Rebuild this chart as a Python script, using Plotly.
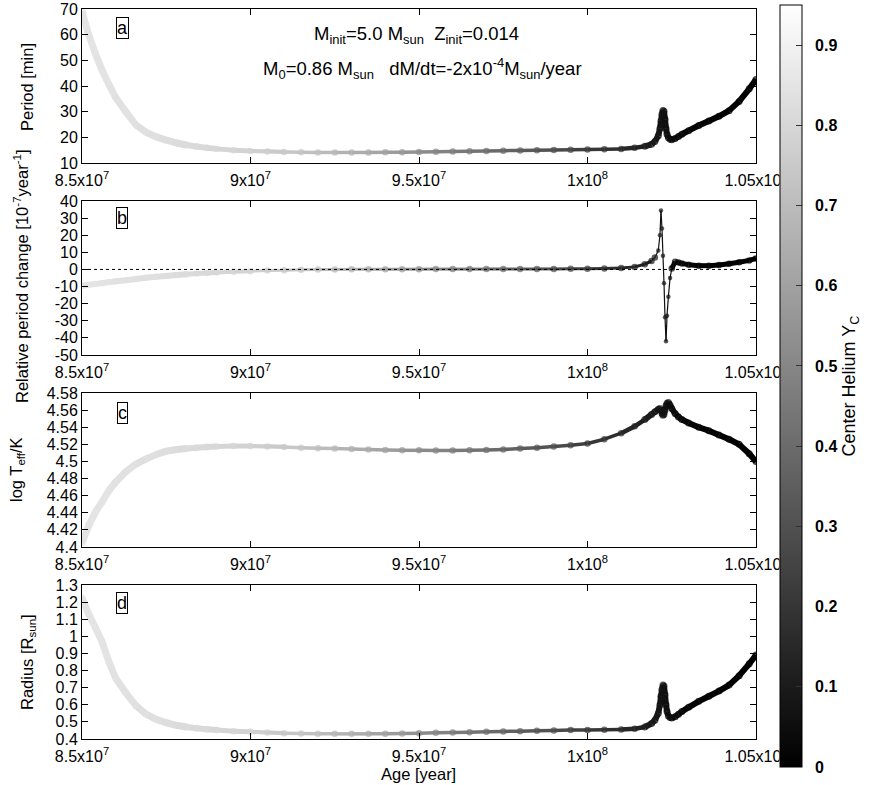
import plotly.graph_objects as go

# ---------------- data ----------------
age_myr = [85.0, 85.2, 85.4, 85.6, 85.8, 86.0, 86.3, 86.6, 86.9, 87.2, 87.5, 87.8, 88.1, 88.4, 88.7,
           89.0, 89.5, 90.0, 90.5, 91.0, 91.5, 92.0, 92.5, 93.0, 93.5, 94.0, 94.5, 95.0, 95.5, 96.0,
           96.5, 97.0, 97.5, 98.0, 98.5, 99.0, 99.5, 100.0, 100.5, 101.0, 101.4, 101.7, 101.9, 102.0,
           102.1, 102.15, 102.18, 102.21, 102.24, 102.27, 102.30, 102.33, 102.36, 102.40, 102.45,
           102.5, 102.6, 102.7, 102.8, 103.0, 103.3, 103.6, 103.9, 104.2, 104.5, 104.8, 105.0]

period_min = [69, 60, 52.5, 46, 40.5, 35.5, 30, 24.8, 22.0, 20.2, 18.9, 17.8, 17.0, 16.4, 15.9,
              15.5, 15.0, 14.7, 14.5, 14.3, 14.2, 14.1, 14.1, 14.1, 14.1, 14.15, 14.2, 14.3, 14.4, 14.5,
              14.6, 14.7, 14.8, 14.9, 15.0, 15.1, 15.2, 15.3, 15.4, 15.5, 15.9, 16.5, 17.3, 18.4,
              20.6, 23.4, 26.4, 29.0, 30.5, 30.2, 27.0, 23.4, 21.2, 19.8, 19.3,
              19.1, 19.5, 20.3, 21.2, 22.6, 24.6, 26.4, 28.2, 30.4, 34.0, 38.9, 42.5]

rel_change = [-9.5, -9.0, -8.5, -8.0, -7.4, -6.9, -6.3, -5.6, -4.9, -4.3, -3.8, -3.3, -2.8, -2.4, -2.1,
              -1.8, -1.4, -1.0, -0.6, -0.4, -0.25, -0.1, 0.0, 0.05, 0.1, 0.1, 0.15, 0.15, 0.2, 0.2,
              0.2, 0.2, 0.25, 0.25, 0.3, 0.3, 0.35, 0.4, 0.5, 0.8, 1.5, 3.0, 5.0, 7.0,
              11.0, 20.0, 34.5, 24.0, 8.0, -8.0, -28.0, -42.0, -27.0, -16.0, -5.0,
              0.5, 4.5, 4.0, 3.5, 2.8, 2.2, 2.2, 2.6, 3.3, 4.2, 5.3, 6.4]

log_teff = [4.405, 4.425, 4.441, 4.453, 4.466, 4.476, 4.488, 4.497, 4.503, 4.508, 4.512, 4.514, 4.515, 4.516, 4.517,
            4.5175, 4.518, 4.518, 4.5175, 4.517, 4.516, 4.5155, 4.515, 4.5145, 4.514, 4.5135, 4.513, 4.513, 4.5128, 4.5128,
            4.513, 4.5135, 4.514, 4.515, 4.516, 4.5175, 4.519, 4.521, 4.526, 4.533, 4.541, 4.549, 4.555, 4.558,
            4.561, 4.562, 4.560, 4.556, 4.554, 4.555, 4.560, 4.565, 4.568, 4.569, 4.566,
            4.562, 4.556, 4.552, 4.549, 4.545, 4.540, 4.536, 4.531, 4.526, 4.520, 4.509, 4.500]

radius_rsun = [1.225, 1.13, 1.05, 0.965, 0.85, 0.755, 0.67, 0.595, 0.545, 0.515, 0.495, 0.48, 0.47, 0.463, 0.457,
               0.452, 0.446, 0.442, 0.438, 0.434, 0.432, 0.431, 0.43, 0.43, 0.43, 0.431, 0.432, 0.434, 0.436, 0.438,
               0.44, 0.442, 0.444, 0.446, 0.448, 0.45, 0.452, 0.453, 0.454, 0.455, 0.46, 0.47, 0.49, 0.51,
               0.55, 0.60, 0.65, 0.69, 0.715, 0.71, 0.66, 0.60, 0.56, 0.535, 0.525,
               0.522, 0.53, 0.545, 0.56, 0.585, 0.62, 0.65, 0.68, 0.715, 0.77, 0.84, 0.891]

helium_yc = [0.85, 0.85, 0.85, 0.845, 0.845, 0.84, 0.84, 0.835, 0.83, 0.83, 0.825, 0.82, 0.815, 0.81, 0.805,
             0.80, 0.79, 0.78, 0.76, 0.745, 0.73, 0.71, 0.68, 0.655, 0.63, 0.60, 0.565, 0.53, 0.50, 0.47,
             0.44, 0.41, 0.38, 0.35, 0.32, 0.29, 0.26, 0.22, 0.19, 0.16, 0.13, 0.11, 0.095, 0.09,
             0.08, 0.075, 0.07, 0.068, 0.065, 0.062, 0.06, 0.058, 0.055, 0.052, 0.048,
             0.045, 0.04, 0.035, 0.03, 0.022, 0.015, 0.01, 0.006, 0.004, 0.002, 0.001, 0.0]

x_tickvals = [8.5e7, 9.0e7, 9.5e7, 1.0e8, 1.05e8]
x_ticktext = ["8.5x10<sup>7</sup>", "9x10<sup>7</sup>", "9.5x10<sup>7</sup>", "1x10<sup>8</sup>", "1.05x10<sup>8</sup>"]

ya_vals = [10, 20, 30, 40, 50, 60, 70]
yb_vals = [-50, -40, -30, -20, -10, 0, 10, 20, 30, 40]
yc_vals = [4.40, 4.42, 4.44, 4.46, 4.48, 4.50, 4.52, 4.54, 4.56, 4.58]
yc_text = ["4.4", "4.42", "4.44", "4.46", "4.48", "4.5", "4.52", "4.54", "4.56", "4.58"]
yd_vals = [0.4, 0.5, 0.6, 0.7, 0.8, 0.9, 1.0, 1.1, 1.2, 1.3]
yd_text = ["0.4", "0.5", "0.6", "0.7", "0.8", "0.9", "1", "1.1", "1.2", "1.3"]
cb_vals = [0, 0.1, 0.2, 0.3, 0.4, 0.5, 0.6, 0.7, 0.8, 0.9]
cb_text = ["0", "0.1", "0.2", "0.3", "0.4", "0.5", "0.6", "0.7", "0.8", "0.9"]

# ---------------- layout helpers ----------------
W, H = 870, 785
CMAX = 0.95
FONT = "Liberation Sans, Arial, Helvetica, sans-serif"
NB = "\u00a0"

age = [a * 1e6 for a in age_myr]


def px_x(p):
    return p / W


def px_y(p):
    return 1 - p / H


def gray(v):
    g = int(round(max(0.0, min(1.0, v / CMAX)) * 255))
    return f"rgb({g},{g},{g})"


def seg_width(a, panel_b):
    # band thickness follows the density of points in the reference
    if panel_b:
        if a < 88:
            return 6.0
        if a < 89:
            return 5.0
        if a < 90:
            return 4.0
        if a < 101.9:
            return 3.0
        if a < 102.5:
            return 1.2
        return 5.0
    if a < 88:
        return 7.0
    if a < 89:
        return 6.0
    if a < 90:
        return 5.0
    if a < 91:
        return 4.2
    if a < 101.0:
        return 3.5
    if a < 101.7:
        return 4.5
    return 6.0


fig = go.Figure()

panels = [
    (period_min, "x", "y", False),
    (rel_change, "x2", "y2", True),
    (log_teff, "x3", "y3", False),
    (radius_rsun, "x4", "y4", False),
]

for k, (vals, xa, ya, is_b) in enumerate(panels):
    for i in range(len(age) - 1):
        fig.add_trace(go.Scatter(
            x=[age[i], age[i + 1]], y=[vals[i], vals[i + 1]], mode="lines",
            line=dict(color=gray((helium_yc[i] + helium_yc[i + 1]) / 2),
                      width=seg_width(age_myr[i], is_b)),
            xaxis=xa, yaxis=ya, showlegend=False, hoverinfo="skip"))
    if is_b:
        msizes = [4.5 if 102.05 <= a <= 102.46 else 6.5 for a in age_myr]
    else:
        msizes = [7.0 if (a < 89 or a > 101.5) else 6.5 for a in age_myr]
    fig.add_trace(go.Scatter(
        x=age, y=vals, mode="markers", xaxis=xa, yaxis=ya, showlegend=False,
        marker=dict(size=msizes, color=helium_yc, cmin=0, cmax=CMAX,
                    colorscale=[[0, "black"], [1, "white"]],
                    line=dict(width=0),
                    showscale=(k == 0),
                    colorbar=dict(
                        x=px_x(780), xanchor="left", xpad=0, ypad=0,
                        y=px_y(386), yanchor="middle",
                        len=(767 - 5) / H, lenmode="fraction",
                        thickness=22, thicknessmode="pixels",
                        outlinewidth=1, outlinecolor="black",
                        bgcolor="white",
                        tickvals=cb_vals, ticktext=[NB + NB + t for t in cb_text],
                        ticks="inside", ticklen=6, tickcolor="#333",
                        tickfont=dict(family=FONT, size=16, color="black", weight="bold"),
                        title=dict(text="Center Helium Y<sub>C</sub>", side="right",
                                   font=dict(family=FONT, size=18, color="black")),
                    ))))

# dotted zero line in panel b
fig.add_shape(type="line", xref="x2 domain", yref="y2", x0=0, x1=1, y0=0, y1=0,
              line=dict(color="black", width=1, dash="dot"))

xdom = [px_x(82), px_x(756)]
ydoms = [(9, 163), (201, 355), (393, 547), (585, 739)]
yranges = [[10, 70], [-50, 40], [4.40, 4.58], [0.4, 1.3]]
ytv = [ya_vals, yb_vals, yc_vals, yd_vals]
ytt = [[str(v) for v in ya_vals], [str(v) for v in yb_vals], yc_text, yd_text]

axis_common = dict(showline=True, linecolor="black", linewidth=1, mirror="allticks",
                   ticks="inside", ticklen=6, tickcolor="black", showgrid=False, zeroline=False,
                   tickfont=dict(family=FONT, size=16, color="black"), automargin=False)

lay = {}
for k in range(4):
    sx = "" if k == 0 else str(k + 1)
    top, bot = ydoms[k]
    lay["xaxis" + sx] = dict(axis_common, domain=xdom, range=[8.5e7, 1.05e8], anchor="y" + sx,
                            tickvals=x_tickvals, ticktext=x_ticktext, ticklabelstandoff=3)
    lay["yaxis" + sx] = dict(axis_common, domain=[px_y(bot), px_y(top)], range=yranges[k],
                            anchor="x" + sx, tickvals=ytv[k], ticktext=ytt[k])

fig.update_layout(**lay)

annots = []
# panel letters
for letter, (cx, cy) in zip("abcd", [(122, 28), (122, 218), (122, 413), (122, 603)]):
    annots.append(dict(text=letter, x=px_x(cx), y=px_y(cy), xref="paper", yref="paper",
                       xanchor="center", yanchor="middle", showarrow=False,
                       font=dict(family=FONT, size=18, color="black"),
                       bordercolor="black", borderwidth=1, borderpad=0, bgcolor="white"))
# y axis titles
for txt, (cx, cy) in [
    ("Period [min]", (27, 87)),
    ("Relative period change [10<sup>-7</sup>year<sup>-1</sup>]", (21, 276)),
    ("log T<sub>eff</sub>/K", (17, 470)),
    ("Radius [R<sub>sun</sub>]", (28, 662)),
]:
    annots.append(dict(text=txt, x=px_x(cx), y=px_y(cy), xref="paper", yref="paper",
                       xanchor="center", yanchor="middle", showarrow=False, textangle=-90,
                       font=dict(family=FONT, size=16.5, color="black")))
# x title
annots.append(dict(text="Age [year]", x=px_x(418), y=px_y(774), xref="paper", yref="paper",
                   xanchor="center", yanchor="middle", showarrow=False,
                   font=dict(family=FONT, size=16.5, color="black")))
# info text
annots.append(dict(text=f"M<sub>init</sub>=5.0 M<sub>sun</sub>{NB}{NB}Z<sub>init</sub>=0.014",
                   x=px_x(416), y=px_y(35), xref="paper", yref="paper",
                   xanchor="center", yanchor="middle", showarrow=False,
                   font=dict(family=FONT, size=18.5, color="black")))
annots.append(dict(text=f"M<sub>0</sub>=0.86 M<sub>sun</sub>{NB}{NB}{NB}dM/dt=-2x10<sup>-4</sup>M<sub>sun</sub>/year",
                   x=px_x(422), y=px_y(69), xref="paper", yref="paper",
                   xanchor="center", yanchor="middle", showarrow=False,
                   font=dict(family=FONT, size=18.5, color="black")))

fig.update_layout(
    width=W, height=H, margin=dict(l=0, r=0, t=0, b=0),
    paper_bgcolor="white", plot_bgcolor="white",
    font=dict(family=FONT, color="black"),
    annotations=annots, showlegend=False,
)

fig.write_html("out.html")
